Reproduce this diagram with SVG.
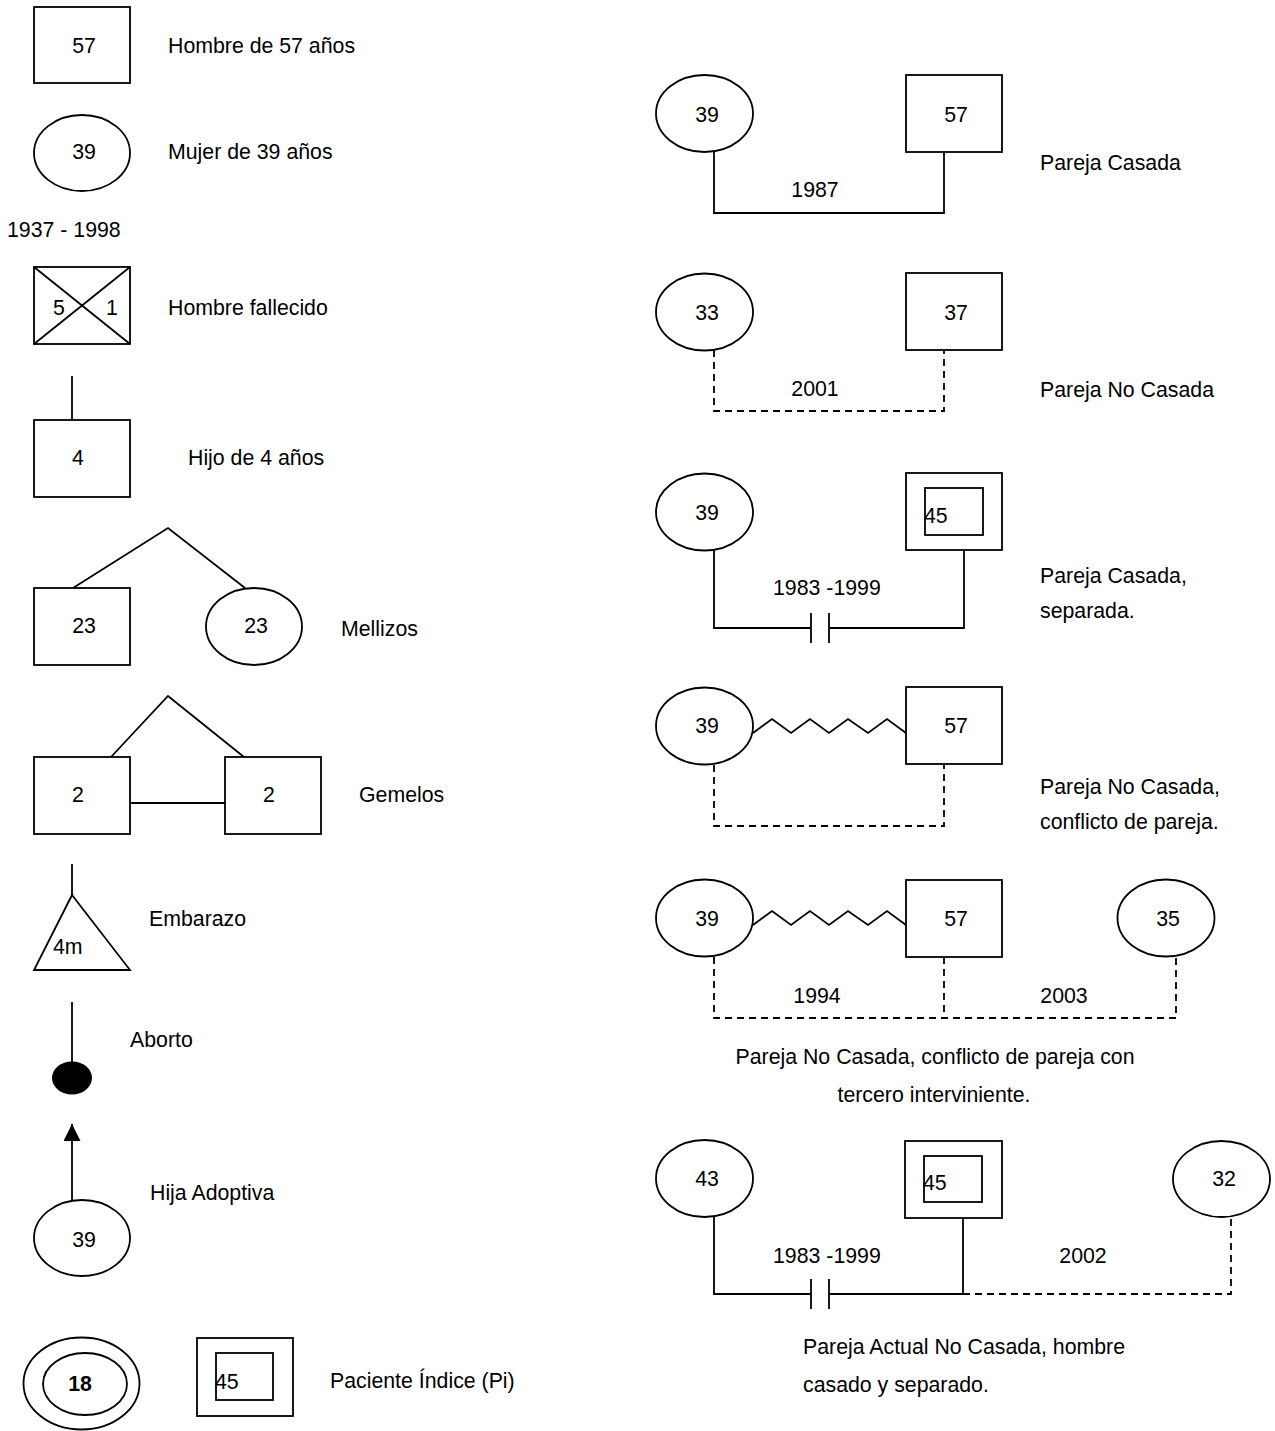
<svg xmlns="http://www.w3.org/2000/svg" width="1275" height="1431" viewBox="0 0 1275 1431">
<style>
.s{fill:#fff;stroke:#000;stroke-width:1.8}
.l{fill:none;stroke:#000;stroke-width:1.8}
.d{fill:none;stroke:#000;stroke-width:1.8;stroke-dasharray:7,5}
text{font-family:"Liberation Sans",Arial,sans-serif;font-size:21.3px;fill:#000}
.m{text-anchor:middle}
.b{font-weight:bold}
</style>
<defs>
<marker id="arr" viewBox="0 0 10 10" refX="10" refY="5" markerWidth="17" markerHeight="17" markerUnits="userSpaceOnUse" orient="auto">
<path d="M0,0 L10,5 L0,10 Z" fill="#000"/>
</marker>
</defs>
<rect width="1275" height="1431" fill="#fff"/>

<g id="connectors">
<line class="l" x1="72" y1="376" x2="72" y2="420"/>
<polyline class="l" points="73,588 168,528 245,588"/>
<polyline class="l" points="111,757 168,696 244,757"/>
<line class="l" x1="130" y1="803" x2="225" y2="803"/>
<line class="l" x1="72" y1="864" x2="72" y2="895"/>
<line class="l" x1="72" y1="1002" x2="72" y2="1063"/>
<line class="l" x1="72" y1="1200" x2="72" y2="1124" marker-end="url(#arr)"/>
<polyline class="l" points="714,152 714,213 944,213 944,152"/>
<polyline class="d" points="714,350 714,411 944,411 944,350"/>
<polyline class="l" points="714,550 714,628 811,628"/>
<polyline class="l" points="829,628 964,628 964,550"/>
<line class="l" x1="811" y1="613" x2="811" y2="643"/>
<line class="l" x1="829" y1="613" x2="829" y2="643"/>
<polyline class="l" points="753,733 772,719 791,733 810,719 829,733 848,719 868,733 887,719 906,733"/>
<polyline class="d" points="714,765 714,826 944,826 944,765"/>
<polyline class="l" points="753,925 772,911 791,925 810,911 829,925 848,911 868,925 887,911 906,925"/>
<polyline class="d" points="714,957 714,1018 1176,1018 1176,957"/>
<line class="d" x1="944" y1="957" x2="944" y2="1018"/>
<polyline class="l" points="714,1217 714,1294 811,1294"/>
<polyline class="l" points="829,1294 963,1294 963,1218"/>
<line class="l" x1="811" y1="1279" x2="811" y2="1309"/>
<line class="l" x1="829" y1="1279" x2="829" y2="1309"/>
<polyline class="d" points="963,1294 1231,1294 1231,1217"/>
</g>

<g id="hombre57">
<rect class="s" x="34" y="7" width="96" height="76"/>
<text class="m" x="84" y="53">57</text>
<text x="168" y="53">Hombre de 57 años</text>
</g>
<g id="mujer39">
<ellipse class="s" cx="82" cy="153" rx="48" ry="38"/>
<text class="m" x="84" y="159">39</text>
<text x="168" y="159">Mujer de 39 años</text>
</g>
<g id="fallecido">
<text x="7" y="237">1937 - 1998</text>
<rect class="s" x="34" y="267" width="96" height="77"/>
<line class="l" x1="34" y1="267" x2="130" y2="344"/>
<line class="l" x1="130" y1="267" x2="34" y2="344"/>
<text x="53" y="315">5</text>
<text x="106" y="315">1</text>
<text x="168" y="315">Hombre fallecido</text>
</g>
<g id="hijo4">
<rect class="s" x="34" y="420" width="96" height="77"/>
<text class="m" x="78" y="465">4</text>
<text x="188" y="465">Hijo de 4 años</text>
</g>
<g id="mellizos">
<rect class="s" x="34" y="588" width="96" height="77"/>
<text class="m" x="84" y="633">23</text>
<ellipse class="s" cx="254" cy="626.5" rx="48" ry="38.5"/>
<text class="m" x="256" y="633">23</text>
<text x="341" y="636">Mellizos</text>
</g>
<g id="gemelos">
<rect class="s" x="34" y="757" width="96" height="77"/>
<text class="m" x="78" y="802">2</text>
<rect class="s" x="225" y="757" width="96" height="77"/>
<text class="m" x="269" y="802">2</text>
<text x="359" y="802">Gemelos</text>
</g>
<g id="embarazo">
<polygon class="s" points="72,895 130,970 34,970"/>
<text x="53" y="954">4m</text>
<text x="149" y="926">Embarazo</text>
</g>
<g id="aborto">
<ellipse cx="72" cy="1078" rx="20" ry="16.5" fill="#000"/>
<text x="130" y="1047">Aborto</text>
</g>
<g id="adoptiva">
<ellipse class="s" cx="82" cy="1238" rx="48" ry="38"/>
<text class="m" x="84" y="1247">39</text>
<text x="150" y="1200">Hija Adoptiva</text>
</g>
<g id="indice">
<ellipse class="s" cx="81.5" cy="1383.5" rx="58" ry="46"/>
<ellipse class="s" cx="85" cy="1384" rx="42" ry="31"/>
<text class="m b" x="80" y="1391">18</text>
<rect class="s" x="197" y="1338" width="96" height="78"/>
<rect class="s" x="216" y="1353" width="57" height="47"/>
<text x="215" y="1389">45</text>
<text x="330" y="1388">Paciente Índice (Pi)</text>
</g>

<g id="pareja-casada">
<ellipse class="s" cx="704.5" cy="113.5" rx="48.5" ry="38.5"/>
<text class="m" x="707" y="122">39</text>
<rect class="s" x="906" y="75" width="96" height="77"/>
<text class="m" x="956" y="122">57</text>
<text class="m" x="815" y="197">1987</text>
<text x="1040" y="170">Pareja Casada</text>
</g>
<g id="pareja-no-casada">
<ellipse class="s" cx="704.5" cy="312" rx="48.5" ry="38.5"/>
<text class="m" x="707" y="320">33</text>
<rect class="s" x="906" y="273" width="96" height="77"/>
<text class="m" x="956" y="320">37</text>
<text class="m" x="815" y="396">2001</text>
<text x="1040" y="397">Pareja No Casada</text>
</g>
<g id="pareja-separada">
<ellipse class="s" cx="704.5" cy="512" rx="48.5" ry="38.5"/>
<text class="m" x="707" y="520">39</text>
<rect class="s" x="906" y="473" width="96" height="77"/>
<rect class="s" x="925" y="488" width="58" height="47"/>
<text x="924" y="523">45</text>
<text x="773" y="595">1983 -1999</text>
<text x="1040" y="583">Pareja Casada,</text>
<text x="1040" y="618">separada.</text>
</g>
<g id="pareja-conflicto">
<ellipse class="s" cx="704.5" cy="726" rx="48.5" ry="38.5"/>
<text class="m" x="707" y="733">39</text>
<rect class="s" x="906" y="687" width="96" height="77"/>
<text class="m" x="956" y="733">57</text>
<text x="1040" y="794">Pareja No Casada,</text>
<text x="1040" y="829">conflicto de pareja.</text>
</g>
<g id="pareja-tercero">
<ellipse class="s" cx="704.5" cy="918" rx="48.5" ry="38.5"/>
<text class="m" x="707" y="926">39</text>
<rect class="s" x="906" y="880" width="96" height="77"/>
<text class="m" x="956" y="926">57</text>
<ellipse class="s" cx="1166" cy="918" rx="48.5" ry="38.5"/>
<text class="m" x="1168" y="926">35</text>
<text class="m" x="817" y="1003">1994</text>
<text class="m" x="1064" y="1003">2003</text>
<text class="m" x="935" y="1064">Pareja No Casada, conflicto de pareja con</text>
<text class="m" x="934" y="1102">tercero interviniente.</text>
</g>
<g id="pareja-actual">
<ellipse class="s" cx="704.5" cy="1178.5" rx="48.5" ry="38.5"/>
<text class="m" x="707" y="1186">43</text>
<rect class="s" x="905" y="1141" width="97" height="77"/>
<rect class="s" x="924" y="1156" width="58" height="46"/>
<text x="923" y="1190">45</text>
<ellipse class="s" cx="1221.5" cy="1179" rx="48.5" ry="38"/>
<text class="m" x="1224" y="1186">32</text>
<text x="773" y="1263">1983 -1999</text>
<text class="m" x="1083" y="1263">2002</text>
<text x="803" y="1354">Pareja Actual No Casada, hombre</text>
<text x="803" y="1392">casado y separado.</text>
</g>
</svg>
